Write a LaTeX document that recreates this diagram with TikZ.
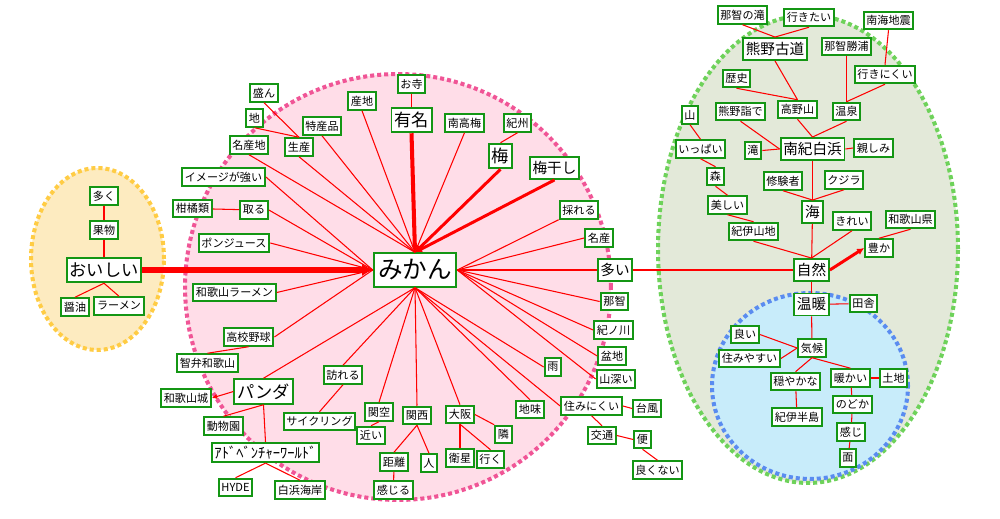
\documentclass[tikz,border=0pt]{standalone}
\usepackage{fontspec}
\setmainfont{Noto Sans CJK JP}
\usetikzlibrary{arrows.meta}

\definecolor{boxgreen}{RGB}{20,150,20}
\definecolor{yellowfill}{RGB}{253,235,192}
\definecolor{yellowdot}{RGB}{255,204,68}
\definecolor{pinkfill}{RGB}{255,221,232}
\definecolor{pinkdot}{RGB}{240,85,150}
\definecolor{greenfill}{RGB}{227,233,217}
\definecolor{greendot}{RGB}{110,210,90}
\definecolor{bluefill}{RGB}{200,236,250}
\definecolor{bluedot}{RGB}{90,140,240}

\tikzset{
  word/.style={draw=boxgreen, line width=1.1pt, fill=white, inner xsep=1.6pt, inner ysep=0pt,
    minimum height=10pt, font=\fontsize{6.3}{7}\selectfont},
  mword/.style={word, minimum height=12.5pt, font=\fontsize{8.3}{9}\selectfont},
  bword/.style={word, minimum height=14pt, font=\fontsize{9.8}{11}\selectfont},
  hub/.style={word, minimum height=19pt, inner xsep=2.5pt, font=\fontsize{14}{16}\selectfont},
  link/.style={red, line width=0.6pt},
  heavy/.style={red, line width=1.7pt, -{Latex[length=4pt,width=4pt]}},
  dotline/.style={line width=2.3pt, dash pattern=on 2.3pt off 1.7pt},
}

\begin{document}
\begin{tikzpicture}[x=0.02cm, y=-0.02cm]
  \useasboundingbox (0,0) rectangle (1000,519);

  % areas
  \draw[dotline, draw=yellowdot, fill=yellowfill] (97.5,259) ellipse [x radius=1.33cm, y radius=1.82cm];
  \draw[dotline, draw=pinkdot, fill=pinkfill] (398,287) circle [radius=4.26cm];
  \draw[dotline, draw=greendot, fill=greenfill] (808,249) ellipse [x radius=3.0cm, y radius=4.68cm];
  \draw[dotline, draw=bluedot, fill=bluefill] (810,386) ellipse [x radius=1.96cm, y radius=1.86cm];

  % おいしい
  \node[word] (ooku) at (104,196) {多く};
  \node[word] (kudamono) at (104,230) {果物};
  \node[bword] (oishii) at (104,270) {おいしい};
  \node[word] (shoyu) at (75,307) {醤油};
  \node[word] (ramen) at (119,306) {ラーメン};

  % みかん
  \node[hub] (mikan) at (415,270) {みかん};
  \node[word] (sakan) at (264,93) {盛ん};
  \node[word] (chi) at (254.5,118) {地};
  \node[word] (meisanchi) at (249,145) {名産地};
  \node[word] (tokusan) at (322,126) {特産品};
  \node[word] (seisan) at (299,147) {生産};
  \node[word] (sanchi) at (362,101) {産地};
  \node[word] (otera) at (411.5,84) {お寺};
  \node[bword] (yumei) at (411.5,120) {有名};
  \node[word] (nankoume) at (464.5,123) {南高梅};
  \node[word] (kishu) at (517.5,123) {紀州};
  \node[bword] (ume) at (500.5,156) {梅};
  \node[mword] (umeboshi) at (554.5,168) {梅干し};
  \node[word] (toreru) at (579,210) {採れる};
  \node[word] (meisan) at (599,238) {名産};
  \node[mword] (ooi) at (615,270) {多い};
  \node[word] (nachi) at (614.5,301.5) {那智};
  \node[word] (kinokawa) at (613.5,330) {紀ノ川};
  \node[word] (bonchi) at (612,356) {盆地};
  \node[word] (yamabukai) at (616,379) {山深い};
  \node[word] (ame) at (553,367) {雨};
  \node[word] (jimi) at (530,409.5) {地味};
  \node[word] (suminikui) at (591.5,406) {住みにくい};
  \node[word] (taifu) at (647,408.5) {台風};
  \node[word] (koutsu) at (602,435.5) {交通};
  \node[word] (ben) at (642.5,439.5) {便};
  \node[word] (yokunai) at (657.5,470) {良くない};
  \node[word] (osaka) at (460,414.5) {大阪};
  \node[word] (tonari) at (503.5,434.5) {隣};
  \node[word] (eisei) at (460,458) {衛星};
  \node[word] (iku) at (490.5,459.5) {行く};
  \node[word] (kansai) at (417,415.5) {関西};
  \node[word] (kyori) at (394,462) {距離};
  \node[word] (hito) at (429,463) {人};
  \node[word] (kanjiru) at (393.5,490) {感じる};
  \node[word] (kanku) at (379,412) {関空};
  \node[word] (chikai) at (371,435.5) {近い};
  \node[word] (otozure) at (343,375) {訪れる};
  \node[word] (cycle) at (319.5,421.5) {サイクリング};
  \node[bword] (panda) at (263.5,391.5) {パンダ};
  \node[word] (wjou) at (186,398) {和歌山城};
  \node[word] (doubutsu) at (223.5,426) {動物園};
  \node[mword, minimum height=11pt] (adv) at (265.5,452.5) {ｱﾄﾞﾍﾞﾝﾁｬｰﾜｰﾙﾄﾞ};
  \node[word] (hyde) at (235.5,487.5) {HYDE};
  \node[word] (hama) at (300,490) {白浜海岸};
  \node[word] (chiben) at (207.5,363) {智弁和歌山};
  \node[word] (koukou) at (248.5,337) {高校野球};
  \node[word] (wramen) at (234.5,292.5) {和歌山ラーメン};
  \node[word] (ponju) at (234,243) {ポンジュース};
  \node[word] (kankitsu) at (192.5,208.5) {柑橘類};
  \node[word] (toru) at (254,210) {取る};
  \node[word] (image) at (223.5,177) {イメージが強い};

  % 自然
  \node[word] (nachitaki) at (742.5,15) {那智の滝};
  \node[word] (ikitai) at (809,17.5) {行きたい};
  \node[mword] (kodo) at (775,49) {熊野古道};
  \node[word] (nankai) at (888.5,20.5) {南海地震};
  \node[word] (katsuura) at (846.5,46.5) {那智勝浦};
  \node[word] (ikinikui) at (885,74.5) {行きにくい};
  \node[word] (rekishi) at (736.5,78.5) {歴史};
  \node[word] (moude) at (740.5,111.5) {熊野詣で};
  \node[word] (koya) at (797.5,109.5) {高野山};
  \node[word] (onsen) at (846.5,111.5) {温泉};
  \node[word] (yama) at (690,115) {山};
  \node[word] (ippai) at (700.5,149) {いっぱい};
  \node[word] (taki) at (753,150.5) {滝};
  \node[mword] (shirahama) at (812.5,149) {南紀白浜};
  \node[word] (shitashimi) at (873.5,148) {親しみ};
  \node[word] (mori) at (715.5,176.5) {森};
  \node[word] (shugen) at (783,181) {修験者};
  \node[word] (kujira) at (844,180) {クジラ};
  \node[word] (utsukushii) at (727.5,205) {美しい};
  \node[mword] (umi) at (812.5,212) {海};
  \node[word] (kirei) at (852,221) {きれい};
  \node[word] (wken) at (910.5,219.5) {和歌山県};
  \node[word] (kiisanchi) at (753.5,231.5) {紀伊山地};
  \node[word] (yutaka) at (879,248) {豊か};
  \node[mword] (shizen) at (811.5,270) {自然};

  % 温暖
  \node[mword] (ondan) at (811.5,304.5) {温暖};
  \node[word] (inaka) at (863.5,303.5) {田舎};
  \node[word] (yoi) at (745,334.5) {良い};
  \node[word] (sumiyasui) at (749.5,358.5) {住みやすい};
  \node[word] (kikou) at (812,348) {気候};
  \node[word] (odayaka) at (795.5,381.5) {穏やかな};
  \node[word] (atatakai) at (850.5,378) {暖かい};
  \node[word] (tochi) at (893.5,378) {土地};
  \node[word] (hanto) at (797,417) {紀伊半島};
  \node[word] (nodoka) at (852.5,404.5) {のどか};
  \node[word] (kanji) at (851,432) {感じ};
  \node[word] (men) at (848,458) {面};

  % connectors
  \draw[link] (ooku) -- (kudamono);
  \draw[link] (kudamono) -- (oishii);
  \draw[link] (oishii.south) -- (shoyu.north);
  \draw[link] (oishii.south) -- (ramen.north);
  \draw[heavy, line width=3.4pt, -{Latex[length=6pt,width=7pt]}] (oishii.east) -- (mikan.west);

  \draw[link] (sakan.south) -- (seisan.north);
  \draw[link] (chi.south) -- (seisan.north);
  \draw[link] (seisan.south) -- (mikan.north);
  \draw[link] (tokusan.south) -- (mikan.north);
  \draw[link] (meisanchi.south) -- (mikan.north);
  \draw[link] (sanchi.south) -- (mikan.north);
  \draw[link] (otera) -- (yumei);
  \draw[heavy, line width=2.3pt] (yumei.south) -- (mikan.north);
  \draw[link] (nankoume.south) -- (mikan.north);
  \draw[link] (kishu.south) -- (ume.north);
  \draw[heavy] (ume.south) -- (mikan.north);
  \draw[heavy] (umeboshi.south) -- (mikan.north);
  \draw[link] (toreru.south west) -- (mikan.east);
  \draw[link] (meisan.west) -- (mikan.east);
  \draw[link] (ooi.west) -- (mikan.east);
  \draw[link] (nachi.west) -- (mikan.east);
  \draw[link] (kinokawa.west) -- (mikan.east);
  \draw[link] (bonchi.west) -- (mikan.east);
  \draw[link] (yamabukai.west) -- (mikan.east);
  \draw[link] (ame.west) -- (mikan.south);
  \draw[link] (jimi.north) -- (mikan.south);
  \draw[link] (suminikui.west) -- (mikan.south);
  \draw[link] (suminikui.east) -- (taifu.west);
  \draw[link] (suminikui.south) -- (koutsu.north);
  \draw[link] (koutsu.east) -- (ben.west);
  \draw[link] (ben.south) -- (yokunai.north);
  \draw[link] (osaka.north) -- (mikan.south);
  \draw[link] (osaka.east) -- (tonari.north west);
  \draw[link] (osaka.south) -- (eisei.north);
  \draw[link] (osaka.south) -- (iku.north);
  \draw[link] (kansai.north) -- (mikan.south);
  \draw[link] (kansai.south) -- (kyori.north);
  \draw[link] (kansai.south) -- (hito.north);
  \draw[link] (kyori) -- (kanjiru);
  \draw[link] (kanku.north) -- (mikan.south);
  \draw[link] (kanku.south) -- (chikai.north);
  \draw[link] (otozure.north) -- (mikan.south);
  \draw[link] (otozure.south) -- (cycle.north);
  \draw[link] (panda.north) -- (mikan.south);
  \draw[link, -{Latex[length=3pt,width=3pt]}] (panda.west) -- (wjou.east);
  \draw[link] (panda.south) -- (doubutsu.north);
  \draw[link] (panda.south) -- (adv.north);
  \draw[link] (adv.south) -- (hyde.north);
  \draw[link] (adv.south) -- (hama.north);
  \draw[link] (koukou.east) -- (mikan.west);
  \draw[link] (chiben.north) -- (koukou.south);
  \draw[link] (wramen.east) -- (mikan.west);
  \draw[link] (ponju.east) -- (mikan.west);
  \draw[link] (kankitsu) -- (toru);
  \draw[link] (toru.east) -- (mikan.west);
  \draw[link] (image.east) -- (mikan.west);

  \draw[link] (ooi.east) -- (shizen.west);
  \draw[link] (nachitaki.south) -- (kodo.north);
  \draw[link] (ikitai.south) -- (kodo.north);
  \draw[link] (kodo.south) -- (koya.north);
  \draw[link] (rekishi.south) -- (koya.north);
  \draw[link] (katsuura.south) -- (onsen.north);
  \draw[link] (nankai.south) -- (ikinikui.north);
  \draw[link] (ikinikui.south) -- (onsen.north);
  \draw[link] (koya.south) -- (shirahama.north);
  \draw[link] (onsen.south) -- (shirahama.north);
  \draw[link] (moude.south) -- (shirahama.west);
  \draw[link] (taki.east) -- (shirahama.west);
  \draw[link] (shitashimi.west) -- (shirahama.east);
  \draw[link] (yama.south) -- (ippai.north);
  \draw[link] (ippai.south) -- (mori.north);
  \draw[link] (mori.south) -- (utsukushii.north);
  \draw[link] (utsukushii.south) -- (kiisanchi.north);
  \draw[link] (kiisanchi.south) -- (shizen.north);
  \draw[link] (shirahama) -- (umi);
  \draw[link] (shugen.south) -- (umi.north);
  \draw[link] (kujira.south) -- (umi.north);
  \draw[link] (umi) -- (shizen);
  \draw[link] (kirei.south) -- (shizen.north);
  \draw[link] (wken.south) -- (yutaka.north);
  \draw[heavy] (shizen.east) -- (yutaka.west);
  \draw[link] (shizen) -- (ondan);
  \draw[link] (ondan) -- (inaka);
  \draw[link] (ondan) -- (kikou);
  \draw[link] (yoi.east) -- (kikou.west);
  \draw[link] (sumiyasui.east) -- (kikou.west);
  \draw[link] (kikou.south) -- (odayaka.north);
  \draw[link] (kikou.south) -- (atatakai.north);
  \draw[link] (odayaka) -- (hanto);
  \draw[link] (atatakai) -- (tochi);
  \draw[link] (atatakai) -- (nodoka);
  \draw[link] (nodoka) -- (kanji);
  \draw[link] (kanji) -- (men);
\end{tikzpicture}
\end{document}
